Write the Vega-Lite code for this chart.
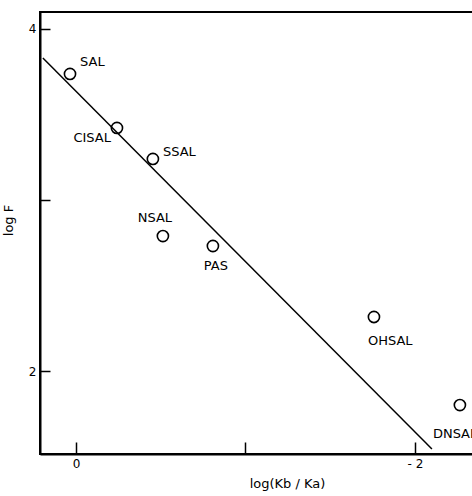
{
  "$schema": "https://vega.github.io/schema/vega-lite/v6.json",
  "width": 436,
  "height": 442,
  "autosize": "none",
  "padding": {"left": 40, "top": 12, "right": 0, "bottom": 42},
  "background": "white",
  "config": {
    "view": {"stroke": "black", "strokeWidth": 2},
    "font": "DejaVu Sans",
    "axis": {"grid": false, "domainColor": "black", "domainWidth": 2, "tickColor": "black", "tickWidth": 1.5, "labelColor": "black", "titleColor": "black", "labelFont": "DejaVu Sans", "titleFont": "DejaVu Sans", "labelFontSize": 12, "titleFontSize": 13, "titleFontWeight": "normal"}
  },
  "datasets": {
    "pts": [
      {"name": "SAL", "logK": 0.035, "logF": 3.737},
      {"name": "CISAL", "logK": -0.242, "logF": 3.421},
      {"name": "SSAL", "logK": -0.454, "logF": 3.24},
      {"name": "NSAL", "logK": -0.513, "logF": 2.789},
      {"name": "PAS", "logK": -0.808, "logF": 2.731},
      {"name": "OHSAL", "logK": -1.758, "logF": 2.316},
      {"name": "DNSAL", "logK": -2.265, "logF": 1.801}
    ],
    "fit": [
      {"logK": 0.195, "logF": 3.83},
      {"logK": -2.1, "logF": 1.544}
    ]
  },
  "encoding": {
    "x": {"field": "logK", "type": "quantitative", "scale": {"domain": [-2.36, 0.212], "reverse": true, "nice": false, "zero": false},
      "axis": {"title": "log(Kb / Ka)", "values": [0, -1, -2], "tickSize": -12, "labelPadding": 16, "labelExpr": "datum.value == 0 ? '0' : (datum.value == -2 ? '- 2' : '')", "titleX": 247, "titlePadding": 8}},
    "y": {"field": "logF", "type": "quantitative", "scale": {"domain": [1.515, 4.099], "nice": false, "zero": false},
      "axis": {"title": "log F", "values": [2, 3, 4], "tickSize": -10, "labelPadding": 14, "labelExpr": "datum.value == 3 ? '' : datum.label", "titleX": -25, "titleY": 208}}
  },
  "layer": [
    {"data": {"name": "fit"}, "mark": {"type": "line", "color": "black", "strokeWidth": 1.5, "clip": true}},
    {"data": {"name": "pts"}, "mark": {"type": "point", "shape": "circle", "filled": false, "color": "black", "strokeWidth": 1.6, "size": 125, "opacity": 1}},
    {"data": {"name": "pts"}, "transform": [{"filter": "datum.name == 'SAL'"}], "mark": {"type": "text", "align": "left", "baseline": "middle", "dx": 10, "dy": -12, "fontSize": 13, "color": "black"}, "encoding": {"text": {"field": "name"}}},
    {"data": {"name": "pts"}, "transform": [{"filter": "datum.name == 'CISAL'"}], "mark": {"type": "text", "align": "right", "baseline": "middle", "dx": -6, "dy": 10, "fontSize": 13, "color": "black"}, "encoding": {"text": {"field": "name"}}},
    {"data": {"name": "pts"}, "transform": [{"filter": "datum.name == 'SSAL'"}], "mark": {"type": "text", "align": "left", "baseline": "middle", "dx": 10, "dy": -7, "fontSize": 13, "color": "black"}, "encoding": {"text": {"field": "name"}}},
    {"data": {"name": "pts"}, "transform": [{"filter": "datum.name == 'NSAL'"}], "mark": {"type": "text", "align": "center", "baseline": "middle", "dx": -8, "dy": -18, "fontSize": 13, "color": "black"}, "encoding": {"text": {"field": "name"}}},
    {"data": {"name": "pts"}, "transform": [{"filter": "datum.name == 'PAS'"}], "mark": {"type": "text", "align": "center", "baseline": "middle", "dx": 3, "dy": 20, "fontSize": 13, "color": "black"}, "encoding": {"text": {"field": "name"}}},
    {"data": {"name": "pts"}, "transform": [{"filter": "datum.name == 'OHSAL'"}], "mark": {"type": "text", "align": "left", "baseline": "middle", "dx": -6, "dy": 24, "fontSize": 13, "color": "black"}, "encoding": {"text": {"field": "name"}}},
    {"data": {"name": "pts"}, "transform": [{"filter": "datum.name == 'DNSAL'"}], "mark": {"type": "text", "align": "left", "baseline": "middle", "dx": -27, "dy": 29, "fontSize": 13, "color": "black"}, "encoding": {"text": {"field": "name"}}}
  ]
}
